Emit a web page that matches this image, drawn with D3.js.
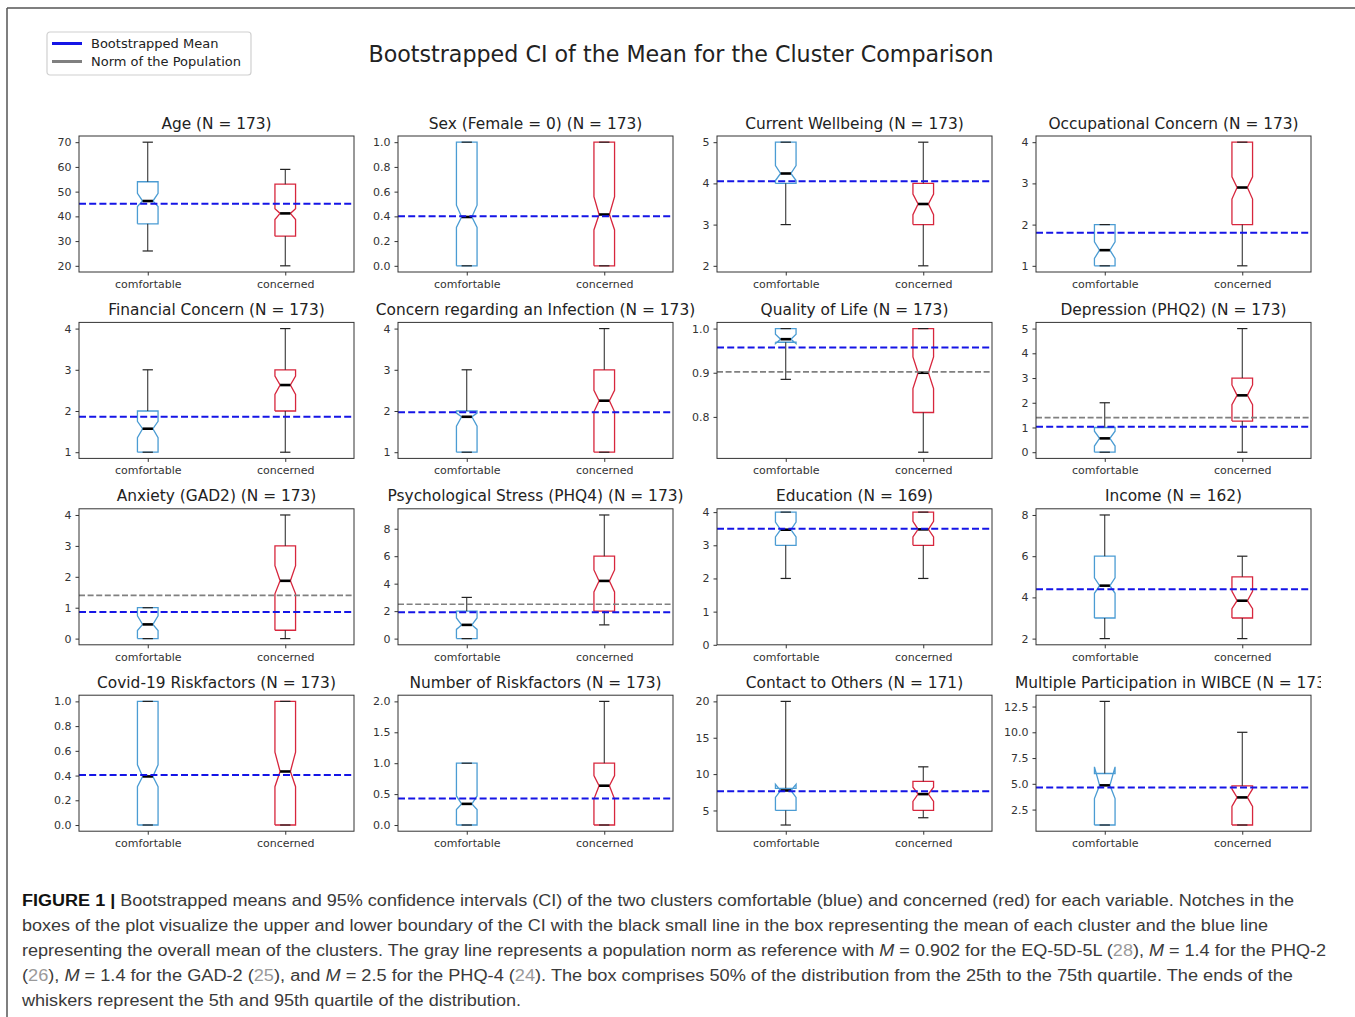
<!DOCTYPE html>
<html>
<head>
<meta charset="utf-8">
<script src="https://cdn.jsdelivr.net/npm/d3@7"></script>
<style>
  body { margin: 0; background: #fff; }
  svg { display: block; }
</style>
</head>
<body>
<svg id="fig" width="1355" height="1017"></svg>
<script>
var panelTitles = [
  'Age (N = 173)', 'Sex (Female = 0) (N = 173)', 'Current Wellbeing (N = 173)', 'Occupational Concern (N = 173)',
  'Financial Concern (N = 173)', 'Concern regarding an Infection (N = 173)', 'Quality of Life (N = 173)', 'Depression (PHQ2) (N = 173)',
  'Anxiety (GAD2) (N = 173)', 'Psychological Stress (PHQ4) (N = 173)', 'Education (N = 169)', 'Income (N = 162)',
  'Covid-19 Riskfactors (N = 173)', 'Number of Riskfactors (N = 173)', 'Contact to Others (N = 171)', 'Multiple Participation in WIBCE (N = 173)'
];
var groups = ['comfortable', 'concerned'];

// [5th pct, q1, ci low, mean, ci high, q3, 95th pct]
var comfortableStats = [
  [26, 37, 44, 46.2, 49.3, 54, 70],
  [0, 0, 0.31, 0.395, 0.49, 1, 1],
  [3, 4, 4.07, 4.24, 4.43, 5, 5],
  [1, 1, 1.18, 1.38, 1.58, 2, 2],
  [1, 1, 1.35, 1.57, 1.75, 2, 3],
  [1, 1, 1.63, 1.86, 1.95, 2, 3],
  [0.885, 0.969, 0.966, 0.976, 0.987, 1, 1],
  [0, 0, 0.25, 0.56, 0.85, 1, 2],
  [0, 0, 0.26, 0.46, 0.74, 1, 1],
  [0, 0, 0.67, 1.0, 1.5, 2, 3],
  [2, 3, 3.25, 3.47, 3.7, 4, 4],
  [2, 3, 4.2, 4.57, 4.95, 6, 8],
  [0, 0, 0.31, 0.393, 0.487, 1, 1],
  [0, 0, 0.25, 0.342, 0.47, 1, 1],
  [3, 5, 6.8, 7.75, 8.6, 8.05, 20],
  [1, 1, 3.57, 4.85, 6.65, 6, 13]
];
var concernedStats = [
  [20, 32, 38.7, 41.2, 43.1, 53, 59],
  [0, 0, 0.29, 0.415, 0.56, 1, 1],
  [2, 3, 3.24, 3.5, 3.74, 4, 5],
  [1, 2, 2.62, 2.9, 3.16, 4, 4],
  [1, 2, 2.4, 2.63, 2.85, 3, 4],
  [1, 1, 1.98, 2.25, 2.5, 3, 4],
  [0.72, 0.81, 0.864, 0.9, 0.936, 1, 1],
  [0, 1.26, 1.92, 2.3, 2.72, 3, 5],
  [0, 0.27, 1.45, 1.87, 2.36, 3, 4],
  [1, 2, 3.4, 4.2, 5.0, 6, 9],
  [2, 3, 3.25, 3.48, 3.72, 4, 4],
  [2, 3, 3.45, 3.84, 4.3, 5, 6],
  [0, 0, 0.31, 0.433, 0.59, 1, 1],
  [0, 0, 0.42, 0.636, 0.8, 1, 2],
  [4, 5, 6.25, 7.25, 8.2, 9, 11],
  [1, 1, 2.8, 3.68, 4.5, 4.8, 10]
];
var overallMean = [45.1, 0.40, 4.05, 1.8, 1.86, 1.97, 0.957, 1.03, 0.86, 1.92, 3.5, 4.39, 0.404, 0.43, 7.65, 4.65];
var populationNorm = [null, null, null, null, null, null, 0.902, 1.4, 1.4, 2.5, null, null, null, null, null, null];
var yFloor = [null, null, null, null, null, null, null, null, null, null, 0, null, null, null, null, null];
var yTicks = [
  [20, 30, 40, 50, 60, 70], [0, 0.2, 0.4, 0.6, 0.8, 1.0], [2, 3, 4, 5], [1, 2, 3, 4],
  [1, 2, 3, 4], [1, 2, 3, 4], [0.8, 0.9, 1.0], [0, 1, 2, 3, 4, 5],
  [0, 1, 2, 3, 4], [0, 2, 4, 6, 8], [0, 1, 2, 3, 4], [2, 4, 6, 8],
  [0, 0.2, 0.4, 0.6, 0.8, 1.0], [0, 0.5, 1.0, 1.5, 2.0], [5, 10, 15, 20], [2.5, 5, 7.5, 10, 12.5]
];

var legendLabels = ['Bootstrapped Mean', 'Norm of the Population'];
var suptitle = 'Bootstrapped CI of the Mean for the Cluster Comparison';

// caption lines: b = bold, i = italic, g = grey reference
var captionLines = [
  [['b', 'FIGURE 1 | '], ['', 'Bootstrapped means and 95% confidence intervals (CI) of the two clusters comfortable (blue) and concerned (red) for each variable. Notches in the']],
  [['', 'boxes of the plot visualize the upper and lower boundary of the CI with the black small line in the box representing the mean of each cluster and the blue line']],
  [['', 'representing the overall mean of the clusters. The gray line represents a population norm as reference with '], ['i', 'M'], ['', ' = 0.902 for the EQ-5D-5L ('], ['g', '28'], ['', '), '], ['i', 'M'], ['', ' = 1.4 for the PHQ-2']],
  [['', '('], ['g', '26'], ['', '), '], ['i', 'M'], ['', ' = 1.4 for the GAD-2 ('], ['g', '25'], ['', '), and '], ['i', 'M'], ['', ' = 2.5 for the PHQ-4 ('], ['g', '24'], ['', '). The box comprises 50% of the distribution from the 25th to the 75th quartile. The ends of the']],
  [['', 'whiskers represent the 5th and 95th quartile of the distribution.']]
];
var captionWidths = [1272, 1246, 1304, 1271, 499];

var boxColors = ['#4b9cd3', '#d7263d'];
var axW = 275, axH = 136;
var font = "'DejaVu Sans', sans-serif";

var svg = d3.select('#fig');
svg.append('defs').append('clipPath').attr('id', 'figclip')
   .append('rect').attr('x', 0).attr('y', 0).attr('width', 1321).attr('height', 1017);

// outer frame of the figure
svg.append('line').attr('x1', 7).attr('x2', 1355).attr('y1', 8).attr('y2', 8).attr('stroke', '#555').attr('stroke-width', 1.5);
svg.append('line').attr('x1', 7).attr('x2', 7).attr('y1', 8).attr('y2', 1017).attr('stroke', '#555').attr('stroke-width', 1.5);

var fig = svg.append('g').attr('clip-path', 'url(#figclip)');

fig.append('text').attr('x', 681).attr('y', 62).attr('text-anchor', 'middle')
   .attr('font-family', font).attr('font-size', 22.2).attr('fill', '#222').text(suptitle);

// legend
var leg = fig.append('g').attr('transform', 'translate(47,32)');
leg.append('rect').attr('width', 204).attr('height', 43).attr('rx', 3)
   .attr('fill', '#fff').attr('stroke', '#d0d0d0').attr('stroke-width', 1.2);
legendLabels.forEach(function(lbl, j) {
  var yy = 11.5 + j * 18;
  leg.append('line').attr('x1', 5).attr('x2', 35).attr('y1', yy).attr('y2', yy)
     .attr('stroke', j == 0 ? '#1515e6' : '#808080').attr('stroke-width', 3);
  leg.append('text').attr('x', 44).attr('y', yy + 4.5).attr('font-family', font).attr('font-size', 13)
     .attr('fill', '#222').text(lbl);
});

function boxPath(s, pos, x, y) {
  var bl = x(pos - 0.075), br = x(pos + 0.075), cl = x(pos - 0.0375), cr = x(pos + 0.0375);
  var pts = [[bl, s[1]], [br, s[1]], [br, s[2]], [cr, s[3]], [br, s[4]], [br, s[5]],
             [bl, s[5]], [bl, s[4]], [cl, s[3]], [bl, s[2]], [bl, s[1]]];
  return d3.line()(pts.map(function(p) { return [p[0], y(p[1])]; }));
}

panelTitles.forEach(function(title, i) {
  var col = i % 4, row = Math.floor(i / 4);
  var left = 79 + col * 319, top = 136 + row * 186.4;
  var stats = [comfortableStats[i], concernedStats[i]];
  var all = stats[0].concat(stats[1]);
  var lo = d3.min(all), hi = d3.max(all), pad = (hi - lo) * 0.05;
  var dom = [yFloor[i] != null ? yFloor[i] : lo - pad, hi + pad];

  var x = d3.scaleLinear().domain([0.5, 2.5]).range([0, axW]);
  var y = d3.scaleLinear().domain(dom).range([axH, 0]);
  var g = fig.append('g').attr('transform', 'translate(' + left + ',' + top + ')');

  var decimals = yTicks[i].some(function(t) { return t % 1 != 0; });
  var fmt = decimals ? d3.format('.1f') : d3.format('d');

  var ya = g.append('g').call(d3.axisLeft(y).tickValues(yTicks[i]).tickSize(3.5).tickPadding(4).tickFormat(fmt));
  var xa = g.append('g').attr('transform', 'translate(0,' + axH + ')')
            .call(d3.axisBottom(x).tickValues([1, 2]).tickSize(3.5).tickPadding(4.5).tickFormat(function(d, j) { return groups[j]; }));
  [ya, xa].forEach(function(a) {
    a.select('.domain').remove();
    a.attr('font-family', font).attr('font-size', 11);
    a.selectAll('line').attr('stroke', '#333');
    a.selectAll('text').attr('fill', '#333');
  });

  stats.forEach(function(s, j) {
    var pos = j + 1;
    var cx = x(pos), cl = x(pos - 0.0375), cr = x(pos + 0.0375);
    g.append('path').attr('d', boxPath(s, pos, x, y)).attr('fill', 'none')
     .attr('stroke', boxColors[j]).attr('stroke-width', 1.3);
    // whiskers and caps
    [[s[1], s[0]], [s[5], s[6]]].forEach(function(w) {
      g.append('line').attr('x1', cx).attr('x2', cx).attr('y1', y(w[0])).attr('y2', y(w[1]))
       .attr('stroke', '#222').attr('stroke-width', 1);
      g.append('line').attr('x1', cl).attr('x2', cr).attr('y1', y(w[1])).attr('y2', y(w[1]))
       .attr('stroke', '#222').attr('stroke-width', 1.2);
    });
    g.append('line').attr('x1', cl).attr('x2', cr).attr('y1', y(s[3])).attr('y2', y(s[3]))
     .attr('stroke', '#000').attr('stroke-width', 2.6);
  });

  if (populationNorm[i] != null) {
    g.append('line').attr('x1', 0).attr('x2', axW).attr('y1', y(populationNorm[i])).attr('y2', y(populationNorm[i]))
     .attr('stroke', '#808080').attr('stroke-width', 1.6).attr('stroke-dasharray', '6,2.6');
  }
  g.append('line').attr('x1', 0).attr('x2', axW).attr('y1', y(overallMean[i])).attr('y2', y(overallMean[i]))
   .attr('stroke', '#1515e6').attr('stroke-width', 2).attr('stroke-dasharray', '7,3.2');

  g.append('rect').attr('width', axW).attr('height', axH).attr('fill', 'none')
   .attr('stroke', '#333').attr('stroke-width', 1);

  g.append('text').attr('x', axW / 2).attr('y', -7.5).attr('text-anchor', 'middle')
   .attr('font-family', font).attr('font-size', 15.4).attr('fill', '#222').text(title);
});

// caption
captionLines.forEach(function(line, k) {
  var t = svg.append('text').attr('x', 22).attr('y', 906 + k * 25)
             .attr('font-family', "'Liberation Sans', Arial, sans-serif").attr('font-size', 16)
             .attr('fill', '#3a3a3a')
             .attr('textLength', captionWidths[k]).attr('lengthAdjust', 'spacingAndGlyphs');
  line.forEach(function(seg) {
    var ts = t.append('tspan').text(seg[1]);
    if (seg[0] == 'b') ts.attr('font-weight', 'bold').attr('fill', '#111');
    if (seg[0] == 'i') ts.attr('font-style', 'italic');
    if (seg[0] == 'g') ts.attr('fill', '#9a9a9a');
  });
});
</script>
</body>
</html>
